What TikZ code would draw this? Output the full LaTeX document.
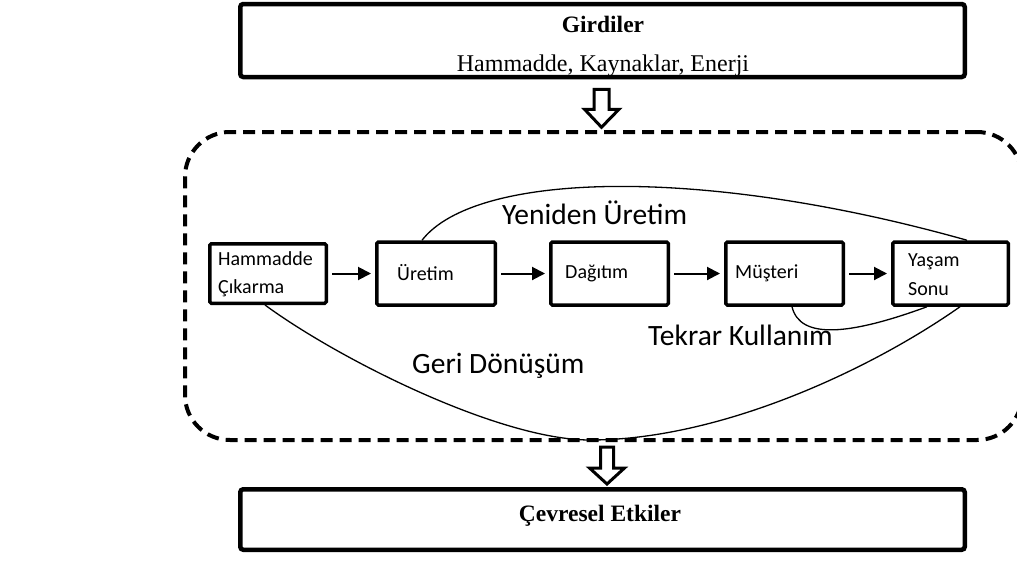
\documentclass[tikz,border=0pt]{standalone}
\usepackage{fontspec}
\setmainfont{Liberation Serif}
\newfontfamily\calfont{Carlito}
\usetikzlibrary{arrows.meta,calc}

\tikzset{
  panel/.style={draw, line width=4.5pt, rounded corners=3pt, inner sep=0pt},
  stagebox/.style={draw, line width=3.5pt, rounded corners=1.5pt, inner sep=0pt,
                   minimum height=63pt},
  cycleframe/.style={draw, line width=4pt, dash pattern=on 12pt off 7pt,
                     rounded corners=45pt, inner sep=0pt},
  flow/.style={line width=2pt, -{Triangle[length=13pt,width=13pt]},
               shorten <=4pt, shorten >=4pt},
  hollow/.style={draw, fill=white, line width=3pt, line join=miter},
  loopline/.style={line width=1.3pt},
  title/.style={font=\fontsize{23.5}{27}\selectfont\bfseries},
  subtitle/.style={font=\fontsize{24}{28}\selectfont},
  stagetext/.style={font=\calfont\fontsize{20}{24}\selectfont, inner sep=0pt},
  looptext/.style={font=\calfont\fontsize{29.5}{34}\selectfont, inner sep=0pt}
}

\begin{document}
\begin{tikzpicture}[x=1pt,y=-1pt]
\useasboundingbox (0,0) rectangle (1017,579);
\fill[white] (0,0) rectangle (1017,579);

% inputs and environmental effects
\node[panel, minimum width=724.5pt, minimum height=73pt] (inp) at (602.5,40.5) {};
\node[title, anchor=base] (inpt) at (603,32) {Girdiler};
\node[subtitle, anchor=base] (inps) at (603,71) {Hammadde, Kaynaklar, Enerji};

\node[panel, minimum width=724.5pt, minimum height=60.5pt] (out) at (602.5,519.5) {};
\node[title, anchor=base] (outt) at (600,521) {Çevresel Etkiler};

% life-cycle frame
\node[cycleframe, minimum width=837pt, minimum height=308pt] (life) at (603.5,286) {};

% block arrows into and out of the frame
\draw[hollow] ($(inp.south)+(-8.5,10)$) -- ++(15,0) -- ++(0,20) -- ++(10,0)
  -- ++(-17.5,18) -- ++(-17,-18) -- ++(9.5,0) -- cycle;
\draw[hollow] ($(life.south)+(-3,5)$) -- ++(13,0) -- ++(0,21) -- ++(11,0)
  -- ++(-17.5,16) -- ++(-17.5,-16) -- ++(11,0) -- cycle;

% stages
\node[stagebox, minimum width=116.5pt, minimum height=59.5pt] (ham) at (268,273.5) {};
\node[stagebox, minimum width=118.5pt] (ure) at (436,273.5) {};
\node[stagebox, minimum width=117.5pt] (dag) at (609.5,273.5) {};
\node[stagebox, minimum width=117.5pt] (mus) at (784.5,273.5) {};
\node[stagebox, minimum width=115.5pt] (yas) at (950.5,273.5) {};

\node[stagetext, anchor=base west] (hamt1) at (218,265) {Hammadde};
\node[stagetext, anchor=base west] (hamt2) at (218,293) {Çıkarma};
\node[stagetext, anchor=base west] (uret) at (397,280) {Üretim};
\node[stagetext, anchor=base west] (dagt) at (565,278) {Dağıtım};
\node[stagetext, anchor=base west] (must) at (735,278) {Müşteri};
\node[stagetext, anchor=base west] (yast1) at (908,266) {Yaşam};
\node[stagetext, anchor=base west] (yast2) at (908,295) {Sonu};

\draw[flow] (ham) -- (ure);
\draw[flow] (ure) -- (dag);
\draw[flow] (dag) -- (mus);
\draw[flow] (mus) -- (yas);

% recovery loops
\draw[loopline] ([xshift=-14pt]ure.north) .. controls (475,172) and (700,165)
  .. ([xshift=16.5pt]yas.north);
\draw[loopline] ([xshift=7.5pt]mus.south) .. controls (800,340) and (850,335)
  .. ([xshift=-23.5pt]yas.south);
\draw[loopline] ([xshift=-3pt]ham.south) .. controls (340,360) and (500,440)
  .. (590,440) .. controls (720,440) and (870,370) .. ([xshift=9.5pt]yas.south);

\node[looptext, anchor=base west] (yeni) at (502,224) {Yeniden Üretim};
\node[looptext, anchor=base west] (tekr) at (648,345) {Tekrar Kullanım};
\node[looptext, anchor=base west] (geri) at (412,373) {Geri Dönüşüm};
\end{tikzpicture}
\end{document}
